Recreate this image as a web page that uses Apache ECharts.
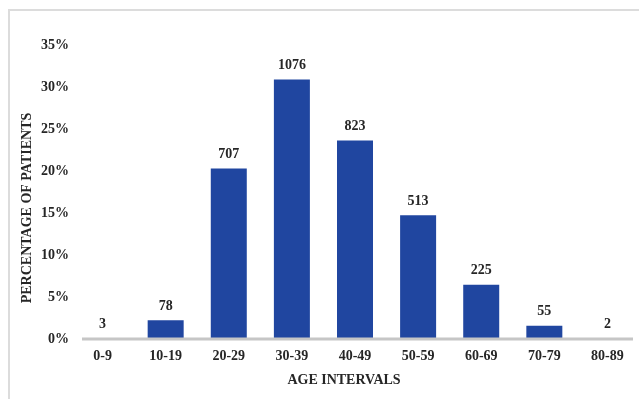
<!DOCTYPE html>
<html>
<head>
<meta charset="utf-8">
<script src="https://cdn.jsdelivr.net/npm/echarts@6/dist/echarts.min.js"></script>
<style>
  html, body { margin: 0; padding: 0; background: #ffffff; }
  #chart { width: 639px; height: 399px; }
</style>
</head>
<body>
<div id="chart"></div>
<script>
// Age groups and number of patients in each
const ageIntervals = ['0-9', '10-19', '20-29', '30-39', '40-49', '50-59', '60-69', '70-79', '80-89'];
const patientCounts = [3, 78, 707, 1076, 823, 513, 225, 55, 2];
const yTicks = [0, 5, 10, 15, 20, 25, 30, 35];

// Share of all patients per age group, in percent
const totalPatients = patientCounts.reduce((a, b) => a + b, 0);
const patientShare = patientCounts.map(c => c / totalPatients * 100);

const FONT = '"Liberation Serif", "Times New Roman", serif';
const TEXT = '#262626';
const FS = 14;

const chart = echarts.init(document.getElementById('chart'), null, { renderer: 'canvas' });

const option = {
  backgroundColor: '#ffffff',
  animation: false,
  grid: { left: 71, right: -8, top: 45, bottom: 60 },
  xAxis: {
    type: 'category',
    data: ageIntervals,
    axisLine: { show: false },
    axisTick: { show: false },
    axisLabel: {
      margin: 10,
      fontFamily: FONT, fontWeight: 'bold', fontSize: FS, color: TEXT
    }
  },
  yAxis: {
    type: 'value',
    min: yTicks[0],
    max: yTicks[yTicks.length - 1],
    interval: 5,
    splitLine: { show: false },
    axisLine: { show: false },
    axisTick: { show: false },
    axisLabel: {
      margin: 2,
      formatter: '{value}%',
      fontFamily: FONT, fontWeight: 'bold', fontSize: FS, color: TEXT
    }
  },
  series: [{
    type: 'bar',
    data: patientShare,
    barWidth: 36,
    itemStyle: { color: '#2046a0' },
    label: {
      show: true,
      position: 'top',
      distance: 7,
      formatter: p => String(patientCounts[p.dataIndex]),
      fontFamily: FONT, fontWeight: 'bold', fontSize: FS, color: TEXT
    }
  }]
};

chart.setOption(option);

// Baseline, frame and axis titles
const baseY = chart.convertToPixel({ yAxisIndex: 0 }, 0);
chart.setOption({
  graphic: [
    {
      type: 'rect', silent: true,
      shape: { x: 9, y: 10, width: 700, height: 500 },
      style: { fill: 'none', stroke: '#dcdcdc', lineWidth: 2 }
    },
    {
      type: 'line', silent: true, z: 100,
      shape: { x1: 82, y1: baseY, x2: 633, y2: baseY },
      style: { stroke: '#c6c6c6', lineWidth: 3 }
    },
    {
      type: 'text', silent: true,
      x: 27, y: 208, rotation: Math.PI / 2,
      style: {
        text: 'PERCENTAGE OF PATIENTS',
        fontFamily: FONT, fontWeight: 'bold', fontSize: FS, fill: TEXT,
        align: 'center', verticalAlign: 'middle'
      }
    },
    {
      type: 'text', silent: true,
      x: 344, y: 380,
      style: {
        text: 'AGE INTERVALS',
        fontFamily: FONT, fontWeight: 'bold', fontSize: FS, fill: TEXT,
        align: 'center', verticalAlign: 'middle'
      }
    }
  ]
});
</script>
</body>
</html>
